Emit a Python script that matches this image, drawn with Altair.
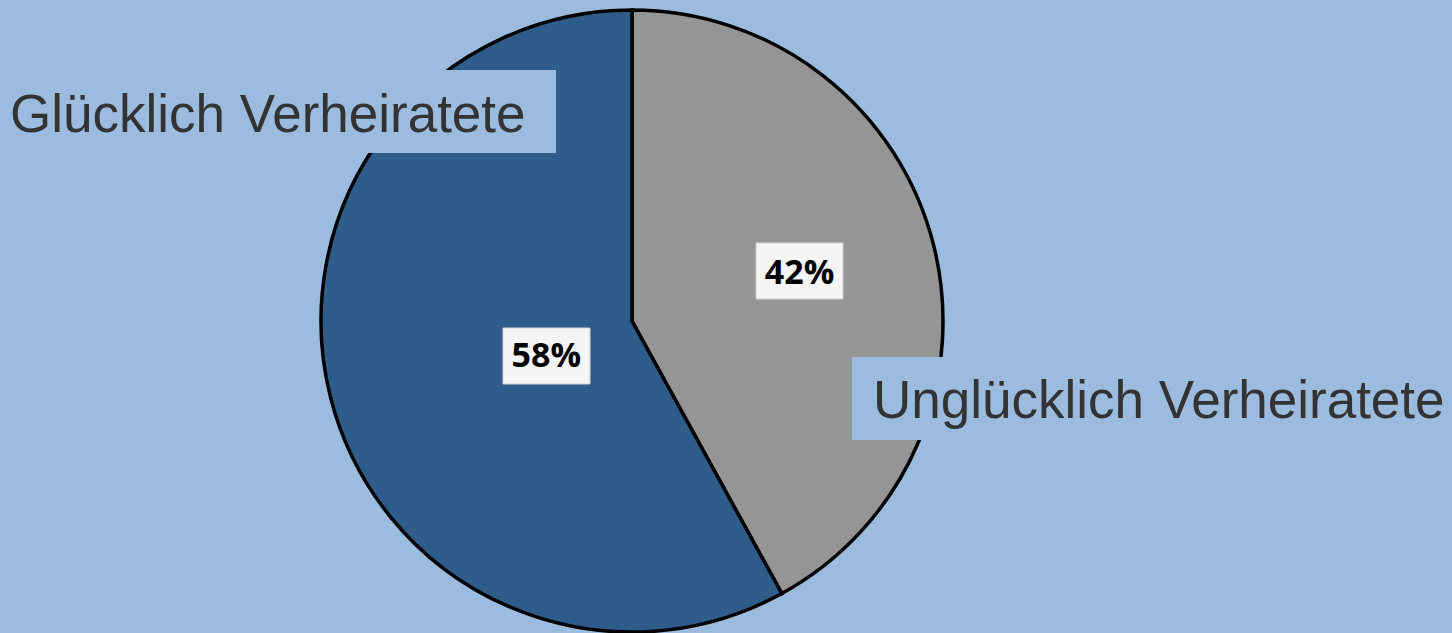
import altair as alt
import pandas as pd

categories = ["Unglücklich Verheiratete", "Glücklich Verheiratete"]
shares = [42, 58]
order_idx = [0, 1]
colors = ["#959595", "#2E5D8B"]

BG = "#9BBCDF"
CX, CY, R = 632, 321, 311

df = pd.DataFrame({"category": categories, "share": shares, "idx": order_idx})
df["label"] = df["share"].astype(str) + "%"

base = alt.Chart(df).encode(
    theta=alt.Theta("share:Q", stack=True),
    order=alt.Order("idx:Q"),
    x=alt.value(CX),
    y=alt.value(CY),
)

pie = base.mark_arc(radius=R, stroke="black", strokeWidth=3.5, strokeJoin="miter").encode(
    color=alt.Color("category:N", scale=alt.Scale(domain=categories, range=colors), legend=None)
)

def box(x1, x2, y1, y2, fill, stroke=None):
    kw = dict(fill=fill)
    if stroke:
        kw.update(stroke=stroke, strokeWidth=1)
    return alt.Chart(alt.Data(values=[{}])).mark_rect(**kw).encode(
        x=alt.value(x1), x2=alt.value(x2), y=alt.value(y1), y2=alt.value(y2)
    )

cat_box1 = box(0, 556, 70, 153, BG)
cat_box2 = box(852, 1460, 357, 440, BG)
pct_box1 = box(756, 843, 243, 299, "#F5F5F5", "#D0D0D0")
pct_box2 = box(503, 590, 328, 384, "#F5F5F5", "#D0D0D0")

def pct_text(cat, radius, dx, dy):
    return base.mark_text(
        radius=radius, dx=dx, dy=dy, font="Open Sans", fontWeight="bold",
        fontSize=34, color="black", align="center", baseline="middle"
    ).encode(
        text=alt.condition(alt.datum.category == cat, "label:N", alt.value(""))
    )

pct1 = pct_text(categories[0], 175, -2, -3)
pct2 = pct_text(categories[1], 91.5, 3, 13)

def cat_text(txt, x, y):
    return alt.Chart(alt.Data(values=[{"t": txt}])).mark_text(
        font="Liberation Sans", fontSize=53, color="#333333", align="left",
        baseline="alphabetic"
    ).encode(x=alt.value(x), y=alt.value(y), text="t:N")

lab1 = cat_text(categories[1], 10, 132)
lab2 = cat_text(categories[0], 873, 418)

chart = alt.layer(
    pie, cat_box1, cat_box2, pct_box1, pct_box2, pct1, pct2, lab1, lab2
).properties(
    width=1452, height=633, background=BG, padding=0,
    autosize=alt.AutoSizeParams(type="none")
).configure_view(stroke=None)

chart.save("out.html", embed_options={"renderer": "svg", "actions": False})
